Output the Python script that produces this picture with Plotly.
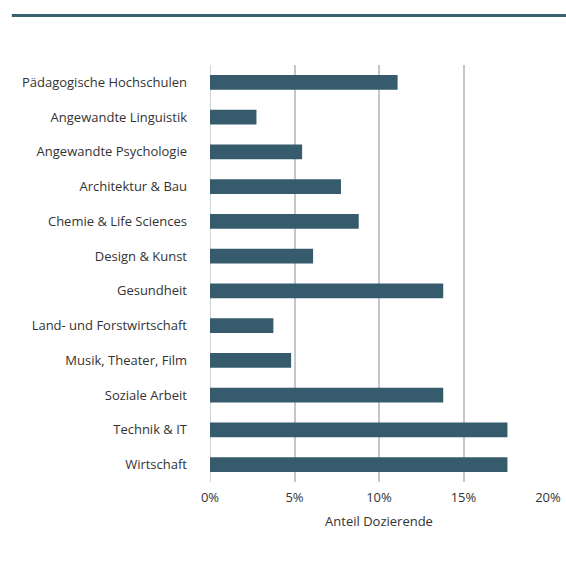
import plotly.graph_objects as go

categories = [
    "Pädagogische Hochschulen",
    "Angewandte Linguistik",
    "Angewandte Psychologie",
    "Architektur & Bau",
    "Chemie & Life Sciences",
    "Design & Kunst",
    "Gesundheit",
    "Land- und Forstwirtschaft",
    "Musik, Theater, Film",
    "Soziale Arbeit",
    "Technik & IT",
    "Wirtschaft",
]
values = [11.1, 2.75, 5.45, 7.75, 8.8, 6.1, 13.8, 3.75, 4.8, 13.8, 17.6, 17.6]
tick_vals = [0, 5, 10, 15, 20]
tick_text = ["0%", "5%", "10%", "15%", "20%"]

bar_color = "#365b6d"
font_family = "Open Sans, sans-serif"

L, R, T, B = 209.5, 18, 65, 88
W, H = 566, 570
pw = W - L - R
ph = H - T - B

fig = go.Figure(
    go.Bar(
        x=values,
        y=categories,
        orientation="h",
        marker=dict(color=bar_color, line=dict(width=0)),
        width=0.43,
        hoverinfo="x+y",
    )
)

fig.update_layout(
    width=W,
    height=H,
    margin=dict(l=L, r=R, t=T, b=B, autoexpand=False),
    paper_bgcolor="white",
    plot_bgcolor="white",
    font=dict(family=font_family, size=13, color="#333333"),
    showlegend=False,
    xaxis=dict(
        range=[0, 20],
        tickvals=tick_vals,
        ticktext=tick_text,
        showgrid=True,
        gridcolor="#c3c7cb",
        gridwidth=1.5,
        zeroline=False,
        showline=False,
        ticks="",
        automargin=False,
        ticklabelstandoff=6,
        tickfont=dict(size=13, color="#333333"),
        title=dict(text="Anteil Dozierende", font=dict(size=13, color="#333333"), standoff=11),
        fixedrange=True,
    ),
    yaxis=dict(
        categoryorder="array",
        categoryarray=list(reversed(categories)),
        showgrid=False,
        zeroline=False,
        showline=False,
        ticks="",
        automargin=False,
        ticklabelstandoff=22,
        tickfont=dict(size=13, color="#333333"),
        fixedrange=True,
    ),
    shapes=[
        dict(
            type="line",
            xref="paper",
            yref="paper",
            x0=(11 - L) / pw,
            x1=(566 - L) / pw,
            y0=(H - B - 15.5) / ph,
            y1=(H - B - 15.5) / ph,
            line=dict(color="#3a6073", width=3),
        ),
        dict(
            type="line",
            xref="x",
            yref="paper",
            x0=0,
            x1=0,
            y0=0,
            y1=1,
            line=dict(color="#c3c7cb", width=1.5),
            layer="below",
        ),
    ],
)

fig.write_html("out.html")
